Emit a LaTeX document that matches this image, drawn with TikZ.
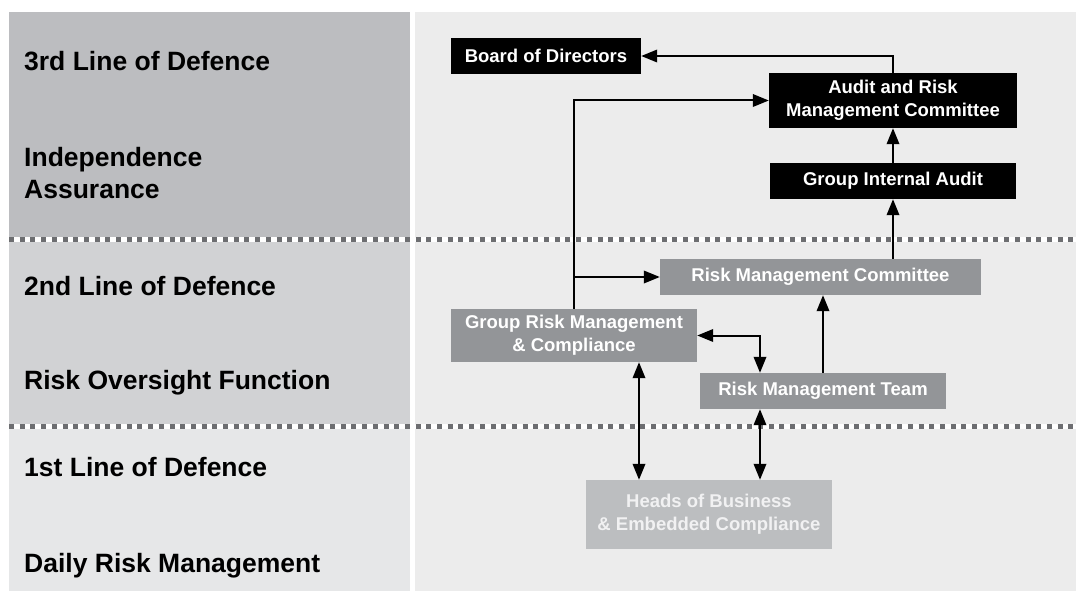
\documentclass[tikz,border=0pt]{standalone}
\usepackage{fontspec}
\setmainfont{Liberation Sans}
\usetikzlibrary{arrows.meta,calc}
\definecolor{cthree}{HTML}{BCBDC0}
\definecolor{ctwo}{HTML}{D1D2D4}
\definecolor{cone}{HTML}{E6E7E8}
\definecolor{cright}{HTML}{ECECEC}
\definecolor{dotc}{HTML}{6D6E71}
\definecolor{midbox}{HTML}{939598}
\definecolor{lightbox}{HTML}{BCBEC0}
\definecolor{lighttext}{HTML}{F1F1F2}
\begin{document}
\begin{tikzpicture}[x=1pt,y=-1pt,
  lab/.style={anchor=base west, inner sep=0pt, font=\fontsize{26.5}{31}\selectfont\bfseries},
  box/.style={inner sep=0pt, font=\fontsize{18.5}{23}\selectfont\bfseries, align=center, text=white},
  blackbox/.style={box, fill=black},
  greybox/.style={box, fill=midbox},
  palebox/.style={box, fill=lightbox, text=lighttext},
  tip/.style={},
  arr/.style={line width=2pt, -{Triangle[length=16pt,width=12.5pt]}},
  darr/.style={line width=2pt, {Triangle[length=16pt,width=12.5pt]}-{Triangle[length=16pt,width=12.5pt]}},
  dotwhite/.style={line width=5pt, white},
  dotgrey/.style={line width=5pt, dotc, dash pattern=on 5pt off 5.7pt}]
\useasboundingbox (0,0) rectangle (1076,591);
\fill[white] (0,0) rectangle (1076,591);
% panels
\fill[cthree] (9,12) rectangle (410,239.5);
\fill[ctwo] (9,239.5) rectangle (410,426);
\fill[cone] (9,426) rectangle (410,591);
\fill[cright] (415,12) rectangle (1076,591);
% dotted separators
\draw[dotwhite] (9,239.5) -- (1076,239.5);
\draw[dotgrey] (9,239.5) -- (1076,239.5);
\draw[dotwhite] (9,426) -- (1076,426);
\draw[dotgrey] (9,426) -- (1076,426);
% left labels
\node[lab] (l3) at (24,71) {3rd Line of Defence};
\node[lab] (l3a) at (24,167) {Independence};
\node[lab] (l3b) at (24,198) {Assurance};
\node[lab] (l2) at (24,295) {2nd Line of Defence};
\node[lab] (l2a) at (24,389) {Risk Oversight Function};
\node[lab] (l1) at (24,476.5) {1st Line of Defence};
\node[lab] (l1a) at (24,572.5) {Daily Risk Management};
% boxes
\node[blackbox, minimum width=190pt, minimum height=36pt] (bod) at (546,56) {Board of Directors};
\node[blackbox, minimum width=248pt, minimum height=55pt] (armc) at (893,100.5) {Audit and Risk\\Management Committee};
\node[blackbox, minimum width=246pt, minimum height=36pt] (gia) at (893,181) {Group Internal Audit};
\node[greybox, minimum width=321pt, minimum height=36pt] (rmc) at (820.5,277) {Risk Management Committee};
\node[greybox, minimum width=246pt, minimum height=53pt] (grmc) at (574,335.5) {Group Risk Management\\\&~Compliance};
\node[greybox, minimum width=246pt, minimum height=36pt] (rmt) at (823,391) {Risk Management Team};
\node[palebox, minimum width=246pt, minimum height=69pt] (heads) at (709,514.5) {Heads of Business\\\&~Embedded Compliance};
% helper coordinates
\coordinate (xa) at (639,0);
\coordinate (xb) at (760,0);
% connectors
\draw[arr] (armc.north) |- (bod.east);
\draw[arr] (grmc.north) |- (armc.west);
\draw[arr] (grmc.north |- rmc.west) -- (rmc.west);
\draw[arr] (gia.north) -- (armc.south);
\draw[arr] (rmc.north -| gia.south) -- (gia.south);
\draw[arr] (rmt.north) -- (rmt.north |- rmc.south);
\draw[darr] (grmc.east) -| (rmt.north -| xb);
\draw[darr] (grmc.south -| xa) -- (heads.north -| xa);
\draw[darr] (rmt.south -| xb) -- (heads.north -| xb);
\end{tikzpicture}
\end{document}
